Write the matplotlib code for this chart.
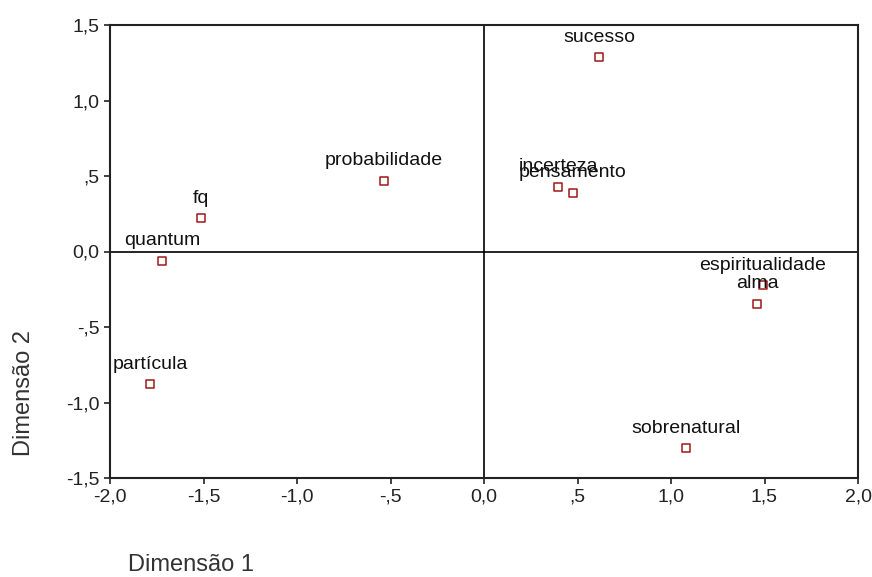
import matplotlib
matplotlib.use("Agg")
import matplotlib.pyplot as plt

labels = ["sucesso", "probabilidade", "incerteza", "pensamento", "fq", "quantum",
          "partícula", "espiritualidade", "alma", "sobrenatural"]
dim1 = [0.615, -0.535, 0.396, 0.476, -1.513, -1.72, -1.786, 1.49, 1.46, 1.08]
dim2 = [1.285, 0.47, 0.43, 0.39, 0.22, -0.06, -0.88, -0.225, -0.345, -1.30]

xticks = [-2.0, -1.5, -1.0, -0.5, 0.0, 0.5, 1.0, 1.5, 2.0]
xticklabels = ["-2,0", "-1,5", "-1,0", "-,5", "0,0", ",5", "1,0", "1,5", "2,0"]
yticks = [-1.5, -1.0, -0.5, 0.0, 0.5, 1.0, 1.5]
yticklabels = ["-1,5", "-1,0", "-,5", "0,0", ",5", "1,0", "1,5"]

plt.rcParams["font.family"] = ["Liberation Sans", "DejaVu Sans"]

fig = plt.figure(figsize=(8.72, 5.77), dpi=100)
ax = fig.add_axes([110 / 872, 1 - 478 / 577, 748 / 872, 453 / 577])

ax.axhline(0, color="black", lw=1.2, zorder=1)
ax.axvline(0, color="black", lw=1.2, zorder=1)
ax.scatter(dim1, dim2, marker="s", s=30, facecolors="white",
           edgecolors="#a01818", linewidths=1.1, zorder=3)
for lab, x, y in zip(labels, dim1, dim2):
    ax.annotate(lab, (x, y), xytext=(0, 11), textcoords="offset points",
                ha="center", va="baseline", fontsize=14, color="#111111")

ax.set_xlim(-2.0, 2.0)
ax.set_ylim(-1.5, 1.5)
ax.set_xticks(xticks)
ax.set_xticklabels(xticklabels)
ax.set_yticks(yticks)
ax.set_yticklabels(yticklabels)
ax.tick_params(direction="out", length=4, width=1.2, labelsize=14, colors="#222222")
for sp in ax.spines.values():
    sp.set_linewidth(1.5)
    sp.set_color("#222222")

fig.text(191 / 872, 1 - 565 / 577, "Dimensão 1", ha="center", va="center", fontsize=17, color="#333333")
fig.text(24 / 872, 1 - 393 / 577, "Dimensão 2", ha="center", va="center", rotation=90,
         fontsize=17, color="#333333")

fig.savefig("out.png", dpi=100)
